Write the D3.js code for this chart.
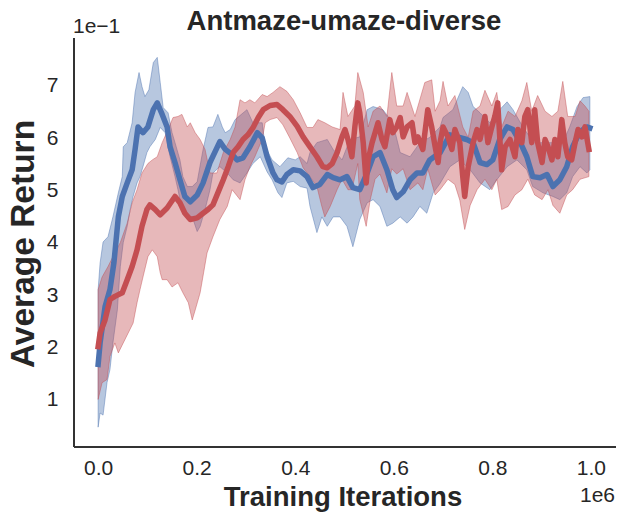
<!DOCTYPE html>
<html>
<head>
<meta charset="utf-8">
<script src="https://cdn.jsdelivr.net/npm/d3@7"></script>
<style>
  html, body { margin: 0; padding: 0; background: #fff; }
  svg text { font-family: "Liberation Sans", Arial, sans-serif; fill: #262626; }
</style>
</head>
<body>
<div id="chart"></div>
<script>
// iterations in units of 1e6, returns as raw values (axis shows them x10)
var blueMean = [[0.0,0.166],[0.004,0.207],[0.014,0.276],[0.024,0.309],[0.032,0.36],[0.041,0.448],[0.049,0.487],[0.059,0.513],[0.069,0.538],[0.075,0.577],[0.081,0.62],[0.091,0.609],[0.101,0.62],[0.112,0.653],[0.120,0.666],[0.130,0.644],[0.140,0.62],[0.146,0.582],[0.156,0.552],[0.166,0.519],[0.176,0.487],[0.187,0.477],[0.201,0.49],[0.213,0.513],[0.227,0.552],[0.247,0.592],[0.258,0.577],[0.272,0.567],[0.282,0.557],[0.294,0.561],[0.308,0.582],[0.323,0.609],[0.333,0.599],[0.343,0.563],[0.355,0.532],[0.363,0.519],[0.373,0.515],[0.383,0.529],[0.396,0.538],[0.410,0.536],[0.424,0.525],[0.436,0.504],[0.450,0.51],[0.465,0.529],[0.477,0.523],[0.491,0.519],[0.505,0.525],[0.517,0.504],[0.531,0.50],[0.546,0.532],[0.558,0.563],[0.572,0.571],[0.586,0.538],[0.598,0.50],[0.606,0.485],[0.619,0.496],[0.633,0.519],[0.647,0.532],[0.659,0.532],[0.673,0.557],[0.694,0.571],[0.714,0.605],[0.748,0.596],[0.761,0.59],[0.775,0.552],[0.789,0.548],[0.801,0.557],[0.815,0.596],[0.830,0.62],[0.842,0.615],[0.856,0.592],[0.870,0.563],[0.882,0.525],[0.897,0.523],[0.911,0.529],[0.923,0.506],[0.937,0.519],[0.951,0.544],[0.963,0.582],[0.978,0.611],[0.992,0.62],[0.998,0.618]];

var blueUpper = [[0.0,0.309],[0.004,0.36],[0.010,0.40],[0.020,0.41],[0.030,0.448],[0.041,0.494],[0.049,0.525],[0.051,0.582],[0.059,0.59],[0.069,0.628],[0.075,0.686],[0.083,0.724],[0.089,0.697],[0.095,0.678],[0.103,0.691],[0.112,0.743],[0.120,0.753],[0.126,0.705],[0.132,0.657],[0.142,0.647],[0.150,0.609],[0.156,0.59],[0.166,0.557],[0.172,0.525],[0.181,0.506],[0.191,0.506],[0.201,0.515],[0.213,0.577],[0.223,0.619],[0.233,0.62],[0.243,0.644],[0.252,0.62],[0.258,0.609],[0.268,0.615],[0.278,0.634],[0.302,0.653],[0.314,0.628],[0.333,0.628],[0.339,0.582],[0.353,0.557],[0.369,0.544],[0.385,0.561],[0.400,0.557],[0.410,0.563],[0.424,0.55],[0.430,0.571],[0.444,0.59],[0.465,0.596],[0.477,0.577],[0.495,0.557],[0.511,0.596],[0.531,0.601],[0.546,0.653],[0.558,0.659],[0.578,0.653],[0.598,0.628],[0.613,0.571],[0.633,0.563],[0.653,0.59],[0.673,0.60],[0.694,0.62],[0.700,0.638],[0.720,0.653],[0.740,0.697],[0.751,0.686],[0.761,0.659],[0.775,0.647],[0.795,0.628],[0.815,0.653],[0.830,0.668],[0.842,0.653],[0.862,0.62],[0.876,0.601],[0.897,0.59],[0.917,0.59],[0.943,0.59],[0.957,0.62],[0.972,0.659],[0.984,0.676],[0.998,0.678]];

var blueLower = [[0.0,0.046],[0.004,0.073],[0.010,0.069],[0.018,0.131],[0.024,0.156],[0.030,0.207],[0.039,0.27],[0.045,0.353],[0.051,0.399],[0.059,0.43],[0.065,0.462],[0.071,0.487],[0.079,0.513],[0.085,0.525],[0.091,0.544],[0.099,0.571],[0.105,0.582],[0.116,0.596],[0.126,0.619],[0.136,0.609],[0.146,0.563],[0.156,0.525],[0.162,0.50],[0.170,0.462],[0.181,0.443],[0.191,0.448],[0.201,0.42],[0.207,0.43],[0.217,0.462],[0.227,0.50],[0.233,0.532],[0.247,0.544],[0.262,0.532],[0.274,0.519],[0.288,0.513],[0.302,0.532],[0.314,0.55],[0.329,0.563],[0.343,0.534],[0.353,0.519],[0.365,0.494],[0.373,0.485],[0.383,0.513],[0.396,0.516],[0.410,0.506],[0.424,0.503],[0.430,0.468],[0.444,0.418],[0.454,0.448],[0.465,0.43],[0.477,0.448],[0.491,0.448],[0.505,0.43],[0.517,0.391],[0.531,0.443],[0.546,0.475],[0.558,0.481],[0.572,0.468],[0.586,0.43],[0.598,0.436],[0.613,0.448],[0.627,0.436],[0.639,0.448],[0.653,0.468],[0.667,0.455],[0.680,0.494],[0.694,0.512],[0.714,0.544],[0.734,0.557],[0.755,0.538],[0.775,0.513],[0.795,0.50],[0.809,0.519],[0.830,0.544],[0.850,0.557],[0.870,0.538],[0.882,0.506],[0.903,0.494],[0.923,0.487],[0.937,0.481],[0.951,0.494],[0.963,0.525],[0.978,0.544],[0.992,0.532],[0.998,0.538]];

var redMean = [[0.0,0.20],[0.004,0.226],[0.014,0.251],[0.024,0.29],[0.034,0.296],[0.049,0.303],[0.059,0.328],[0.069,0.353],[0.079,0.385],[0.089,0.43],[0.099,0.462],[0.105,0.471],[0.116,0.462],[0.126,0.452],[0.140,0.465],[0.156,0.487],[0.166,0.475],[0.176,0.455],[0.187,0.443],[0.201,0.446],[0.213,0.455],[0.223,0.462],[0.233,0.471],[0.243,0.494],[0.254,0.519],[0.264,0.544],[0.274,0.571],[0.284,0.582],[0.294,0.596],[0.304,0.605],[0.314,0.618],[0.325,0.638],[0.335,0.653],[0.349,0.661],[0.363,0.663],[0.375,0.653],[0.389,0.64],[0.404,0.621],[0.416,0.601],[0.430,0.582],[0.444,0.563],[0.456,0.544],[0.465,0.542],[0.475,0.55],[0.485,0.571],[0.495,0.601],[0.501,0.615],[0.507,0.596],[0.515,0.563],[0.521,0.62],[0.527,0.666],[0.531,0.647],[0.538,0.59],[0.544,0.513],[0.548,0.557],[0.556,0.59],[0.562,0.609],[0.568,0.628],[0.576,0.596],[0.582,0.582],[0.592,0.634],[0.598,0.609],[0.606,0.62],[0.613,0.638],[0.619,0.601],[0.627,0.62],[0.637,0.628],[0.643,0.59],[0.649,0.601],[0.659,0.577],[0.669,0.653],[0.677,0.62],[0.684,0.582],[0.690,0.552],[0.694,0.59],[0.700,0.62],[0.710,0.601],[0.718,0.577],[0.724,0.615],[0.734,0.59],[0.740,0.525],[0.744,0.487],[0.751,0.544],[0.761,0.59],[0.769,0.615],[0.775,0.596],[0.785,0.64],[0.791,0.59],[0.799,0.62],[0.805,0.64],[0.811,0.666],[0.819,0.538],[0.826,0.582],[0.836,0.596],[0.846,0.563],[0.852,0.615],[0.860,0.59],[0.866,0.64],[0.872,0.653],[0.880,0.59],[0.886,0.653],[0.892,0.59],[0.901,0.552],[0.907,0.596],[0.913,0.582],[0.921,0.557],[0.927,0.596],[0.933,0.563],[0.941,0.634],[0.947,0.59],[0.953,0.563],[0.961,0.557],[0.968,0.59],[0.974,0.615],[0.982,0.601],[0.988,0.62],[0.996,0.577]];

var redUpper = [[0.0,0.309],[0.008,0.333],[0.020,0.353],[0.030,0.372],[0.045,0.399],[0.059,0.436],[0.069,0.475],[0.079,0.50],[0.089,0.532],[0.101,0.55],[0.110,0.557],[0.120,0.563],[0.130,0.59],[0.142,0.615],[0.152,0.638],[0.162,0.64],[0.170,0.644],[0.181,0.62],[0.187,0.628],[0.197,0.609],[0.207,0.596],[0.217,0.577],[0.227,0.532],[0.241,0.532],[0.254,0.571],[0.268,0.596],[0.278,0.62],[0.288,0.672],[0.298,0.666],[0.308,0.672],[0.318,0.666],[0.333,0.682],[0.343,0.678],[0.355,0.686],[0.369,0.697],[0.383,0.688],[0.396,0.672],[0.410,0.647],[0.424,0.619],[0.436,0.619],[0.446,0.634],[0.460,0.628],[0.475,0.62],[0.491,0.615],[0.497,0.686],[0.507,0.64],[0.521,0.66],[0.527,0.724],[0.538,0.686],[0.548,0.62],[0.558,0.65],[0.572,0.66],[0.586,0.64],[0.596,0.724],[0.606,0.66],[0.619,0.66],[0.627,0.686],[0.643,0.64],[0.663,0.705],[0.677,0.71],[0.684,0.65],[0.694,0.67],[0.700,0.707],[0.710,0.66],[0.724,0.68],[0.740,0.62],[0.751,0.60],[0.761,0.65],[0.775,0.66],[0.785,0.69],[0.799,0.66],[0.809,0.686],[0.819,0.62],[0.832,0.65],[0.846,0.64],[0.860,0.67],[0.870,0.705],[0.880,0.65],[0.892,0.68],[0.907,0.65],[0.921,0.64],[0.933,0.65],[0.943,0.707],[0.953,0.64],[0.968,0.64],[0.978,0.67],[0.988,0.66],[0.996,0.65]];

var redLower = [[0.0,0.099],[0.008,0.131],[0.018,0.137],[0.024,0.181],[0.034,0.207],[0.041,0.188],[0.051,0.207],[0.061,0.226],[0.071,0.245],[0.079,0.284],[0.085,0.309],[0.091,0.333],[0.101,0.372],[0.110,0.385],[0.120,0.372],[0.126,0.341],[0.130,0.328],[0.140,0.328],[0.150,0.314],[0.162,0.322],[0.172,0.303],[0.183,0.284],[0.191,0.251],[0.197,0.27],[0.207,0.303],[0.221,0.379],[0.233,0.41],[0.247,0.443],[0.262,0.468],[0.272,0.50],[0.288,0.481],[0.298,0.519],[0.308,0.544],[0.318,0.563],[0.333,0.596],[0.339,0.628],[0.349,0.634],[0.363,0.638],[0.375,0.624],[0.389,0.599],[0.404,0.571],[0.416,0.542],[0.430,0.525],[0.444,0.506],[0.454,0.468],[0.460,0.448],[0.471,0.468],[0.485,0.50],[0.495,0.52],[0.507,0.50],[0.515,0.50],[0.527,0.55],[0.531,0.481],[0.544,0.43],[0.552,0.48],[0.562,0.52],[0.572,0.53],[0.586,0.494],[0.596,0.54],[0.606,0.53],[0.619,0.54],[0.633,0.50],[0.649,0.513],[0.659,0.50],[0.669,0.54],[0.684,0.49],[0.694,0.50],[0.710,0.52],[0.724,0.51],[0.734,0.48],[0.744,0.424],[0.755,0.47],[0.769,0.50],[0.785,0.52],[0.799,0.50],[0.809,0.52],[0.819,0.462],[0.832,0.468],[0.846,0.49],[0.860,0.50],[0.872,0.52],[0.886,0.49],[0.901,0.481],[0.913,0.50],[0.923,0.47],[0.937,0.455],[0.951,0.49],[0.963,0.50],[0.978,0.52],[0.996,0.525]];

var xTicks = [0.0, 0.2, 0.4, 0.6, 0.8, 1.0];
var yTicks = [0.1, 0.2, 0.3, 0.4, 0.5, 0.6, 0.7];

const BLUE = '#4c72b0';
const RED = '#c44e52';
const W = 623, H = 522;

var svg = d3.select('#chart').append('svg')
  .attr('width', W)
  .attr('height', H);

// axes box: spines at x=73 (left) and y=446.5 (bottom)
var x = d3.scaleLinear().domain([-0.05, 1.05]).range([73.5, 615.5]);
var y = d3.scaleLinear().domain([0.009, 0.791]).range([446.5, 37.5]);

var line = d3.line().x((d) => x(d[0])).y((d) => y(d[1]));

function band(upper, lower) {
  // upper edge forward, lower edge back
  return line(upper.concat(lower.slice().reverse())) + 'Z';
}

var plot = svg.append('g');

[[blueUpper, blueLower, BLUE], [redUpper, redLower, RED]].forEach((b) => {
  plot.append('path')
    .attr('d', band(b[0], b[1]))
    .attr('fill', b[2])
    .attr('fill-opacity', 0.4)
    .attr('stroke', b[2])
    .attr('stroke-opacity', 0.45)
    .attr('stroke-width', 1)
    .attr('stroke-linejoin', 'round');
});

[[blueMean, BLUE], [redMean, RED]].forEach((s) => {
  plot.append('path')
    .attr('d', line(s[0]))
    .attr('fill', 'none')
    .attr('stroke', s[1])
    .attr('stroke-width', 5.5)
    .attr('stroke-linejoin', 'round')
    .attr('stroke-linecap', 'square');
});

// axes, seaborn white style: no tick marks, left and bottom spines only
var xAxis = svg.append('g')
  .attr('transform', 'translate(0,446.5)')
  .call(d3.axisBottom(x).tickValues(xTicks).tickSize(0).tickPadding(14)
    .tickFormat(d3.format('.1f')));
var yAxis = svg.append('g')
  .attr('transform', 'translate(73.5,0)')
  .call(d3.axisLeft(y).tickValues(yTicks).tickSize(0).tickPadding(15)
    .tickFormat((d) => Math.round(d * 10)));

[xAxis, yAxis].forEach((a) => {
  a.select('.domain').attr('stroke', '#333').attr('stroke-width', 2);
  a.selectAll('text').attr('font-size', 21).attr('fill', '#262626');
});

svg.append('text')
  .attr('x', 73).attr('y', 33)
  .attr('font-size', 21)
  .text('1e\u22121');

svg.append('text')
  .attr('x', 615).attr('y', 502)
  .attr('text-anchor', 'end')
  .attr('font-size', 21)
  .text('1e6');

svg.append('text')
  .attr('x', 344).attr('y', 30)
  .attr('text-anchor', 'middle')
  .attr('font-size', 27.5)
  .attr('font-weight', 'bold')
  .text('Antmaze-umaze-diverse');

svg.append('text')
  .attr('x', 343).attr('y', 506)
  .attr('text-anchor', 'middle')
  .attr('font-size', 27.5)
  .attr('font-weight', 'bold')
  .text('Training Iterations');

svg.append('text')
  .attr('transform', 'translate(34,244) rotate(-90)')
  .attr('text-anchor', 'middle')
  .attr('font-size', 33.5)
  .attr('font-weight', 'bold')
  .text('Average Return');
</script>
</body>
</html>
